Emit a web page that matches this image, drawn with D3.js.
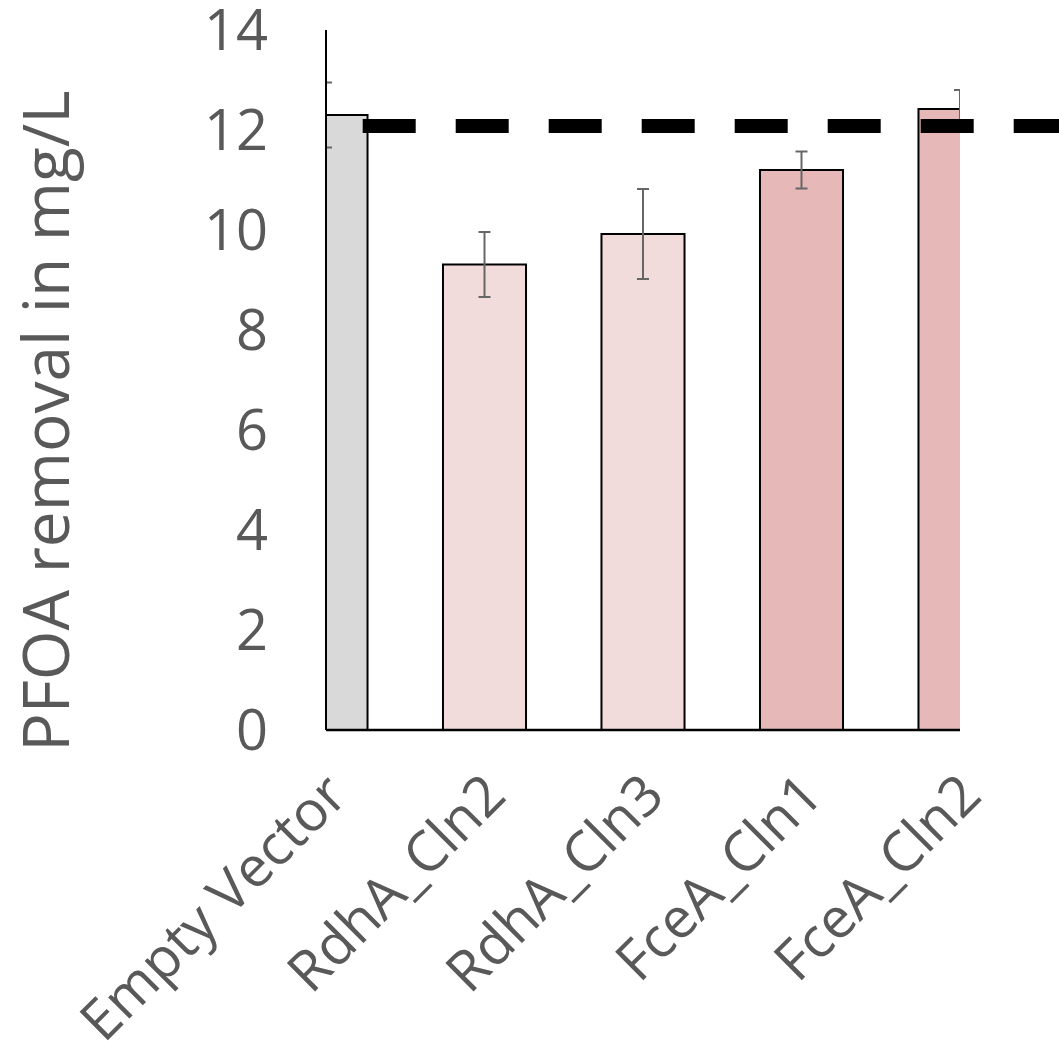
<!DOCTYPE html>
<html>
<head>
<meta charset="utf-8">
<script src="https://cdn.jsdelivr.net/npm/d3@7"></script>
<style>
  body { margin: 0; background: #fff; }
  svg { display: block; }
  text { font-family: "Open Sans", sans-serif; fill: #595959; }
</style>
</head>
<body>
<svg id="chart" width="1059" height="1058"></svg>
<script>
// data
var categories = ["Empty Vector", "RdhA_Cln2", "RdhA_Cln3", "FceA_Cln1", "FceA_Cln2"];
var values = [12.3, 9.31, 9.92, 11.2, 12.42];
var errors = [0.65, 0.65, 0.9, 0.37, 0.38];
var barColors = ["#D9D9D9", "#F2DCDB", "#F2DCDB", "#E6B9B8", "#E6B9B8"];
var yTicks = [0, 2, 4, 6, 8, 10, 12, 14];
var threshold = 12.08;

var svg = d3.select("#chart");

var plot = { left: 326, right: 960, top: 30, bottom: 730 };

var x = d3.scalePoint()
    .domain(categories)
    .range([plot.left, plot.right]);

var y = d3.scaleLinear()
    .domain([0, 14])
    .range([plot.bottom, plot.top]);

var barW = x.step() * 0.524;

// clip so the end bars are cut at the axes like in the original
svg.append("clipPath").attr("id", "plotClip")
    .append("rect")
    .attr("x", plot.left)
    .attr("y", 0)
    .attr("width", plot.right - plot.left)
    .attr("height", plot.bottom + 2);

var g = svg.append("g").attr("clip-path", "url(#plotClip)");

var rows = categories.map(function (c, i) {
    return { name: c, value: values[i], err: errors[i], color: barColors[i] };
});

// bars
g.selectAll(".bar")
    .data(rows)
    .enter()
    .append("rect")
    .attr("class", "bar")
    .attr("x", function (d) { return x(d.name) - barW / 2; })
    .attr("y", function (d) { return y(d.value); })
    .attr("width", barW)
    .attr("height", function (d) { return y(0) - y(d.value); })
    .style("fill", function (d) { return d.color; })
    .style("stroke", "#000")
    .style("stroke-width", 2);

// error bars
var eb = g.selectAll(".err")
    .data(rows)
    .enter()
    .append("g")
    .attr("class", "err")
    .style("stroke", "#666")
    .style("stroke-width", 2);

eb.append("line")
    .attr("x1", function (d) { return x(d.name); })
    .attr("x2", function (d) { return x(d.name); })
    .attr("y1", function (d) { return y(d.value + d.err); })
    .attr("y2", function (d) { return y(d.value - d.err); });

[1, -1].forEach(function (s) {
    eb.append("line")
        .attr("x1", function (d) { return x(d.name) - 6; })
        .attr("x2", function (d) { return x(d.name) + 6; })
        .attr("y1", function (d) { return y(d.value + s * d.err); })
        .attr("y2", function (d) { return y(d.value + s * d.err); });
});

// axes lines
svg.append("line")
    .attr("x1", plot.left).attr("x2", plot.left)
    .attr("y1", y(14)).attr("y2", y(0))
    .style("stroke", "#000").style("stroke-width", 2);

svg.append("line")
    .attr("x1", plot.left).attr("x2", plot.right)
    .attr("y1", y(0)).attr("y2", y(0))
    .style("stroke", "#000").style("stroke-width", 2.5);

// dashed reference line
svg.append("line")
    .attr("x1", 362.7).attr("x2", 1059)
    .attr("y1", y(threshold)).attr("y2", y(threshold))
    .style("stroke", "#000")
    .style("stroke-width", 14)
    .style("stroke-dasharray", "53 40");

// y tick labels
svg.selectAll(".ytick")
    .data(yTicks)
    .enter()
    .append("text")
    .attr("class", "ytick")
    .attr("x", 268)
    .attr("y", function (d) { return y(d); })
    .attr("dy", "0.36em")
    .attr("text-anchor", "end")
    .style("font-size", "56px")
    .text(function (d) { return d; });

// category labels
svg.selectAll(".xlab")
    .data(categories)
    .enter()
    .append("text")
    .attr("class", "xlab")
    .attr("text-anchor", "end")
    .attr("transform", function (d) {
        return "translate(" + (x(d) + 24) + "," + 798 + ") rotate(-45)";
    })
    .style("font-size", "56px")
    .text(function (d) { return d; });

// y title
svg.append("text")
    .attr("text-anchor", "middle")
    .attr("transform", "translate(69," + 421 + ") rotate(-90)")
    .style("font-size", "64px")
    .text("PFOA removal in mg/L");
</script>
</body>
</html>
